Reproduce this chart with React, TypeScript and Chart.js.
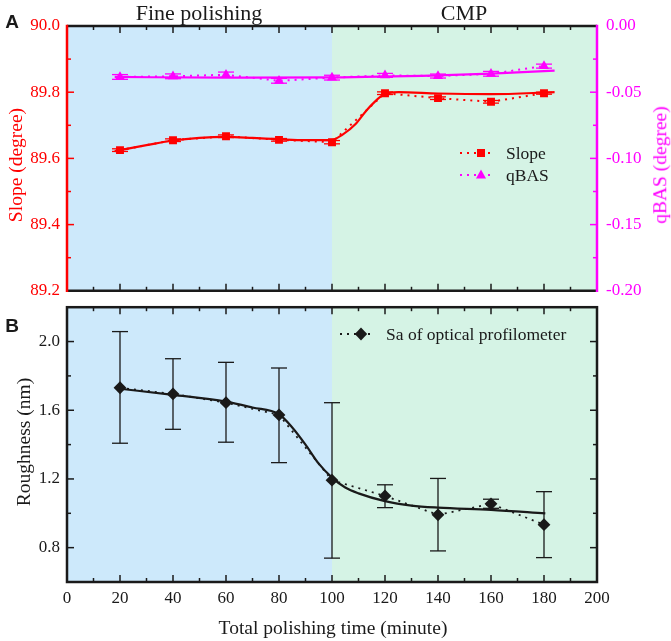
import { useEffect, useRef } from "react";
import { Chart, registerables } from "chart.js";

Chart.register(...registerables);

const SERIF = '"Liberation Serif", "Times New Roman", serif';
const RED = "#ff0000";
const MAGENTA = "#ff00ff";
const INK = "#1a1a1a";

// total polishing time (minute)
const times = [20, 40, 60, 80, 100, 120, 140, 160, 180];
const phaseNames = ["Fine polishing", "CMP"];
const phaseEdges = [0, 100, 200];

// panel A
const slope = [89.625, 89.655, 89.667, 89.656, 89.649, 89.797, 89.782, 89.771, 89.797];
const slopeErr = [0.004, 0.004, 0.004, 0.004, 0.005, 0.004, 0.004, 0.004, 0.003];
const qbas = [-0.0385, -0.038, -0.0368, -0.0414, -0.039, -0.0373, -0.0378, -0.0361, -0.0303];
const qbasErr = [0.0018, 0.0018, 0.002, 0.0018, 0.0018, 0.0015, 0.0015, 0.0018, 0.0015];
const slopeFitX = [18, 30, 40, 50, 60, 70, 80, 90, 100, 104, 109, 113, 116, 119, 125, 140, 160, 184];
const slopeFitY = [89.622, 89.64, 89.654, 89.662, 89.665, 89.662, 89.658, 89.655, 89.656, 89.672, 89.705, 89.745, 89.77, 89.79, 89.8, 89.796, 89.794, 89.8];
const qbasFitX = [18, 60, 100, 140, 160, 184];
const qbasFitY = [-0.0385, -0.039, -0.0388, -0.0373, -0.036, -0.0337];

// panel B
const sa = [1.731, 1.695, 1.644, 1.573, 1.193, 1.101, 0.991, 1.055, 0.934];
const saLow = [1.408, 1.489, 1.414, 1.295, 0.739, 1.033, 0.781, 1.029, 0.742];
const saHigh = [2.058, 1.9, 1.879, 1.846, 1.644, 1.166, 1.203, 1.082, 1.126];
const saFitX = [20, 40, 60, 70, 80, 85, 90, 95, 100, 105, 110, 120, 130, 140, 160, 180.5];
const saFitY = [1.725, 1.69, 1.65, 1.616, 1.577, 1.5, 1.4, 1.289, 1.208, 1.15, 1.116, 1.071, 1.045, 1.033, 1.02, 1.0];

const pts = (xs: number[], ys: number[]) => xs.map((x, i) => ({ x, y: ys[i] }));
const isStep = (v: number, step: number) => Math.abs(Math.round(v / step) * step - v) < 1e-6;

const line = (ctx: CanvasRenderingContext2D, x1: number, y1: number, x2: number, y2: number) => {
  ctx.beginPath();
  ctx.moveTo(x1, y1);
  ctx.lineTo(x2, y2);
  ctx.stroke();
};

const marker = (ctx: CanvasRenderingContext2D, kind: string, x: number, y: number, color: string) => {
  ctx.fillStyle = color;
  ctx.beginPath();
  if (kind === "rect") {
    ctx.rect(x - 4, y - 4, 8, 8);
  } else if (kind === "triangle") {
    ctx.moveTo(x, y - 5.5);
    ctx.lineTo(x + 5, y + 3.5);
    ctx.lineTo(x - 5, y + 3.5);
    ctx.closePath();
  } else {
    ctx.moveTo(x, y - 6.5);
    ctx.lineTo(x + 6.2, y);
    ctx.lineTo(x, y + 6.5);
    ctx.lineTo(x - 6.2, y);
    ctx.closePath();
  }
  ctx.fill();
};

const legendRow = (ctx: CanvasRenderingContext2D, x: number, y: number, kind: string, color: string, text: string) => {
  ctx.save();
  ctx.strokeStyle = color;
  ctx.lineWidth = 2;
  ctx.setLineDash([2, 5]);
  line(ctx, x, y, x + 35, y);
  ctx.setLineDash([]);
  marker(ctx, kind, x + 21, y, color);
  ctx.fillStyle = INK;
  ctx.font = `17.5px ${SERIF}`;
  ctx.textBaseline = "middle";
  ctx.fillText(text, x + 46, y + 1);
  ctx.restore();
};

const phaseBackground = {
  id: "phaseBackground",
  beforeDatasetsDraw(chart: any) {
    const { ctx, chartArea: a, scales } = chart;
    const colors = ["#cde9fb", "#d5f3e5"];
    ctx.save();
    for (let i = 0; i < phaseNames.length; i++) {
      const x1 = scales.x.getPixelForValue(phaseEdges[i]);
      const x2 = scales.x.getPixelForValue(phaseEdges[i + 1]);
      ctx.fillStyle = colors[i];
      ctx.fillRect(x1, a.top, x2 - x1, a.bottom - a.top);
    }
    ctx.restore();
  },
};

const errorBars = (chart: any, yKey: string, xs: number[], lo: number[], hi: number[], color: string) => {
  const { ctx, scales } = chart;
  ctx.save();
  ctx.strokeStyle = color;
  ctx.lineWidth = 1.3;
  xs.forEach((x, i) => {
    const px = scales.x.getPixelForValue(x);
    const y1 = scales[yKey].getPixelForValue(lo[i]);
    const y2 = scales[yKey].getPixelForValue(hi[i]);
    line(ctx, px, y1, px, y2);
    line(ctx, px - 8, y1, px + 8, y1);
    line(ctx, px - 8, y2, px + 8, y2);
  });
  ctx.restore();
};

const xTicksInward = (chart: any) => {
  const { ctx, chartArea: a, scales } = chart;
  ctx.strokeStyle = INK;
  ctx.lineWidth = 1.5;
  for (let v = 0; v <= 200; v += 10) {
    const px = scales.x.getPixelForValue(v);
    const len = v % 20 === 0 ? 7 : 4;
    line(ctx, px, a.top, px, a.top + len);
    line(ctx, px, a.bottom, px, a.bottom - len);
  }
};

const yTicksInward = (chart: any, key: string, side: "left" | "right", color: string) => {
  const { ctx, chartArea: a, scales } = chart;
  const s = scales[key];
  ctx.strokeStyle = color;
  ctx.lineWidth = 1.5;
  s.ticks.forEach((t: any) => {
    const py = s.getPixelForValue(t.value);
    const len = t.label ? 7 : 4;
    if (side === "left") line(ctx, a.left, py, a.left + len, py);
    else line(ctx, a.right, py, a.right - len, py);
  });
};

const noGrid = { display: false, drawTicks: false, tickLength: 0 };

const TopPanel = () => {
  const canvasRef = useRef<HTMLCanvasElement>(null);
  const chartRef = useRef<Chart | null>(null);

  useEffect(() => {
    if (!canvasRef.current) return;
    if (chartRef.current) chartRef.current.destroy();

    const extras = {
      id: "topExtras",
      afterDatasetsDraw(chart: any) {
        errorBars(chart, "y", times, slope.map((v, i) => v - slopeErr[i]), slope.map((v, i) => v + slopeErr[i]), RED);
        errorBars(chart, "y2", times, qbas.map((v, i) => v - qbasErr[i]), qbas.map((v, i) => v + qbasErr[i]), MAGENTA);
      },
      afterDraw(chart: any) {
        const { ctx, chartArea: a } = chart;
        ctx.save();
        xTicksInward(chart);
        yTicksInward(chart, "y", "left", RED);
        yTicksInward(chart, "y2", "right", MAGENTA);
        ctx.lineWidth = 2.5;
        ctx.strokeStyle = INK;
        line(ctx, a.left, a.top, a.right, a.top);
        line(ctx, a.left, a.bottom, a.right, a.bottom);
        ctx.strokeStyle = RED;
        line(ctx, a.left, a.top - 1.25, a.left, a.bottom + 1.25);
        ctx.strokeStyle = MAGENTA;
        line(ctx, a.right, a.top - 1.25, a.right, a.bottom + 1.25);
        legendRow(ctx, 460, 153, "rect", RED, "Slope");
        legendRow(ctx, 460, 175, "triangle", MAGENTA, "qBAS");
        ctx.restore();
      },
    };

    chartRef.current = new Chart(canvasRef.current, {
      type: "line",
      data: {
        datasets: [
          {
            label: "Slope",
            data: pts(times, slope),
            yAxisID: "y",
            borderColor: RED,
            backgroundColor: RED,
            borderWidth: 2,
            borderDash: [2, 5],
            pointStyle: "rect",
            pointRadius: 5.6,
            pointBorderWidth: 0,
          },
          {
            label: "Slope fit",
            data: pts(slopeFitX, slopeFitY),
            yAxisID: "y",
            borderColor: RED,
            borderWidth: 2.2,
            pointRadius: 0,
            cubicInterpolationMode: "monotone",
          },
          {
            label: "qBAS",
            data: pts(times, qbas),
            yAxisID: "y2",
            borderColor: MAGENTA,
            backgroundColor: MAGENTA,
            borderWidth: 2,
            borderDash: [2, 5],
            pointStyle: "triangle",
            pointRadius: 5.8,
            pointBorderWidth: 0,
          },
          {
            label: "qBAS fit",
            data: pts(qbasFitX, qbasFitY),
            yAxisID: "y2",
            borderColor: MAGENTA,
            borderWidth: 2.2,
            pointRadius: 0,
            cubicInterpolationMode: "monotone",
          },
        ],
      },
      options: {
        animation: false,
        responsive: false,
        devicePixelRatio: 1,
        layout: { padding: { top: 26, bottom: 7, left: 0, right: 0 } },
        plugins: { legend: { display: false }, tooltip: { enabled: false } },
        scales: {
          x: { type: "linear", min: 0, max: 200, display: false },
          y: {
            position: "left",
            min: 89.2,
            max: 90.0,
            grid: noGrid,
            border: { display: false },
            afterFit: (s: any) => { s.width = 67; },
            ticks: {
              stepSize: 0.1,
              autoSkip: false,
              padding: 7,
              color: RED,
              font: { family: SERIF, size: 17 },
              callback: (v: any) => (isStep(Number(v), 0.2) ? Number(v).toFixed(1) : ""),
            },
          },
          y2: {
            position: "right",
            min: -0.2,
            max: 0,
            grid: noGrid,
            border: { display: false },
            afterFit: (s: any) => { s.width = 74; },
            ticks: {
              stepSize: 0.025,
              autoSkip: false,
              padding: 9,
              color: MAGENTA,
              font: { family: SERIF, size: 17 },
              callback: (v: any) => (isStep(Number(v), 0.05) ? Number(v).toFixed(2) : ""),
            },
          },
        },
      },
      plugins: [phaseBackground, extras],
    } as any);

    return () => {
      if (chartRef.current) {
        chartRef.current.destroy();
        chartRef.current = null;
      }
    };
  }, []);

  return <canvas ref={canvasRef} width={671} height={310} style={{ position: "absolute", left: 0, top: 0, width: 671, height: 310 }} />;
};

const BottomPanel = () => {
  const canvasRef = useRef<HTMLCanvasElement>(null);
  const chartRef = useRef<Chart | null>(null);

  useEffect(() => {
    if (!canvasRef.current) return;
    if (chartRef.current) chartRef.current.destroy();

    const extras = {
      id: "bottomExtras",
      afterDatasetsDraw(chart: any) {
        errorBars(chart, "y", times, saLow, saHigh, INK);
      },
      afterDraw(chart: any) {
        const { ctx, chartArea: a } = chart;
        ctx.save();
        xTicksInward(chart);
        yTicksInward(chart, "y", "left", INK);
        yTicksInward(chart, "y", "right", INK);
        ctx.lineWidth = 2.5;
        ctx.strokeStyle = INK;
        ctx.strokeRect(a.left, a.top, a.right - a.left, a.bottom - a.top);
        legendRow(ctx, 340, 44, "diamond", INK, "Sa of optical profilometer");
        ctx.restore();
      },
    };

    chartRef.current = new Chart(canvasRef.current, {
      type: "line",
      data: {
        datasets: [
          {
            label: "Sa of optical profilometer",
            data: pts(times, sa),
            borderColor: INK,
            backgroundColor: INK,
            borderWidth: 1.8,
            borderDash: [2, 5],
            pointStyle: "rectRot",
            pointRadius: 6.4,
            pointBorderWidth: 0,
          },
          {
            label: "Sa fit",
            data: pts(saFitX, saFitY),
            borderColor: INK,
            borderWidth: 2.2,
            pointRadius: 0,
            cubicInterpolationMode: "monotone",
          },
        ],
      },
      options: {
        animation: false,
        responsive: false,
        devicePixelRatio: 1,
        layout: { padding: { top: 13, bottom: 0, left: 0, right: 74 } },
        plugins: { legend: { display: false }, tooltip: { enabled: false } },
        scales: {
          x: {
            type: "linear",
            min: 0,
            max: 200,
            grid: noGrid,
            border: { display: false },
            afterFit: (s: any) => { s.height = 59; },
            ticks: {
              stepSize: 10,
              autoSkip: false,
              maxRotation: 0,
              padding: 6,
              color: INK,
              font: { family: SERIF, size: 17 },
              callback: (v: any) => (Number(v) % 20 === 0 ? String(v) : ""),
            },
          },
          y: {
            position: "left",
            min: 0.6,
            max: 2.2,
            grid: noGrid,
            border: { display: false },
            afterFit: (s: any) => { s.width = 67; },
            ticks: {
              stepSize: 0.2,
              autoSkip: false,
              padding: 7,
              color: INK,
              font: { family: SERIF, size: 17 },
              callback: (v: any) => (isStep(Number(v), 0.4) ? Number(v).toFixed(1) : ""),
            },
          },
        },
      },
      plugins: [phaseBackground, extras],
    } as any);

    return () => {
      if (chartRef.current) {
        chartRef.current.destroy();
        chartRef.current = null;
      }
    };
  }, []);

  return <canvas ref={canvasRef} width={671} height={351} style={{ position: "absolute", left: 0, top: 290, width: 671, height: 351 }} />;
};

const Label = ({ text, x, y, color = INK, size = 19.5, rotate = 0, bold = false, sans = false }: any) => (
  <div
    style={{
      position: "absolute",
      left: x,
      top: y,
      transform: `translate(-50%, -50%) rotate(${rotate}deg)`,
      whiteSpace: "nowrap",
      lineHeight: 1,
      color,
      fontSize: size,
      fontWeight: bold ? 700 : 400,
      fontFamily: sans ? '"Liberation Sans", Arial, sans-serif' : SERIF,
    }}
  >
    {text}
  </div>
);

export default function App() {
  return (
    <div style={{ position: "absolute", left: 0, top: 0, width: 671, height: 641, background: "#fff", overflow: "hidden" }}>
      <TopPanel />
      <BottomPanel />
      <Label text={phaseNames[0]} x={199} y={13} size={22} />
      <Label text={phaseNames[1]} x={464} y={13} size={22} />
      <Label text="A" x={12} y={21} size={19} bold sans />
      <Label text="B" x={12} y={325} size={19} bold sans />
      <Label text="Slope (degree)" x={16} y={165} color={RED} rotate={-90} />
      <Label text="qBAS (degree)" x={660} y={165} color={MAGENTA} rotate={-90} />
      <Label text="Roughness (nm)" x={24} y={442} rotate={-90} />
      <Label text="Total polishing time (minute)" x={333} y={628} />
    </div>
  );
}
